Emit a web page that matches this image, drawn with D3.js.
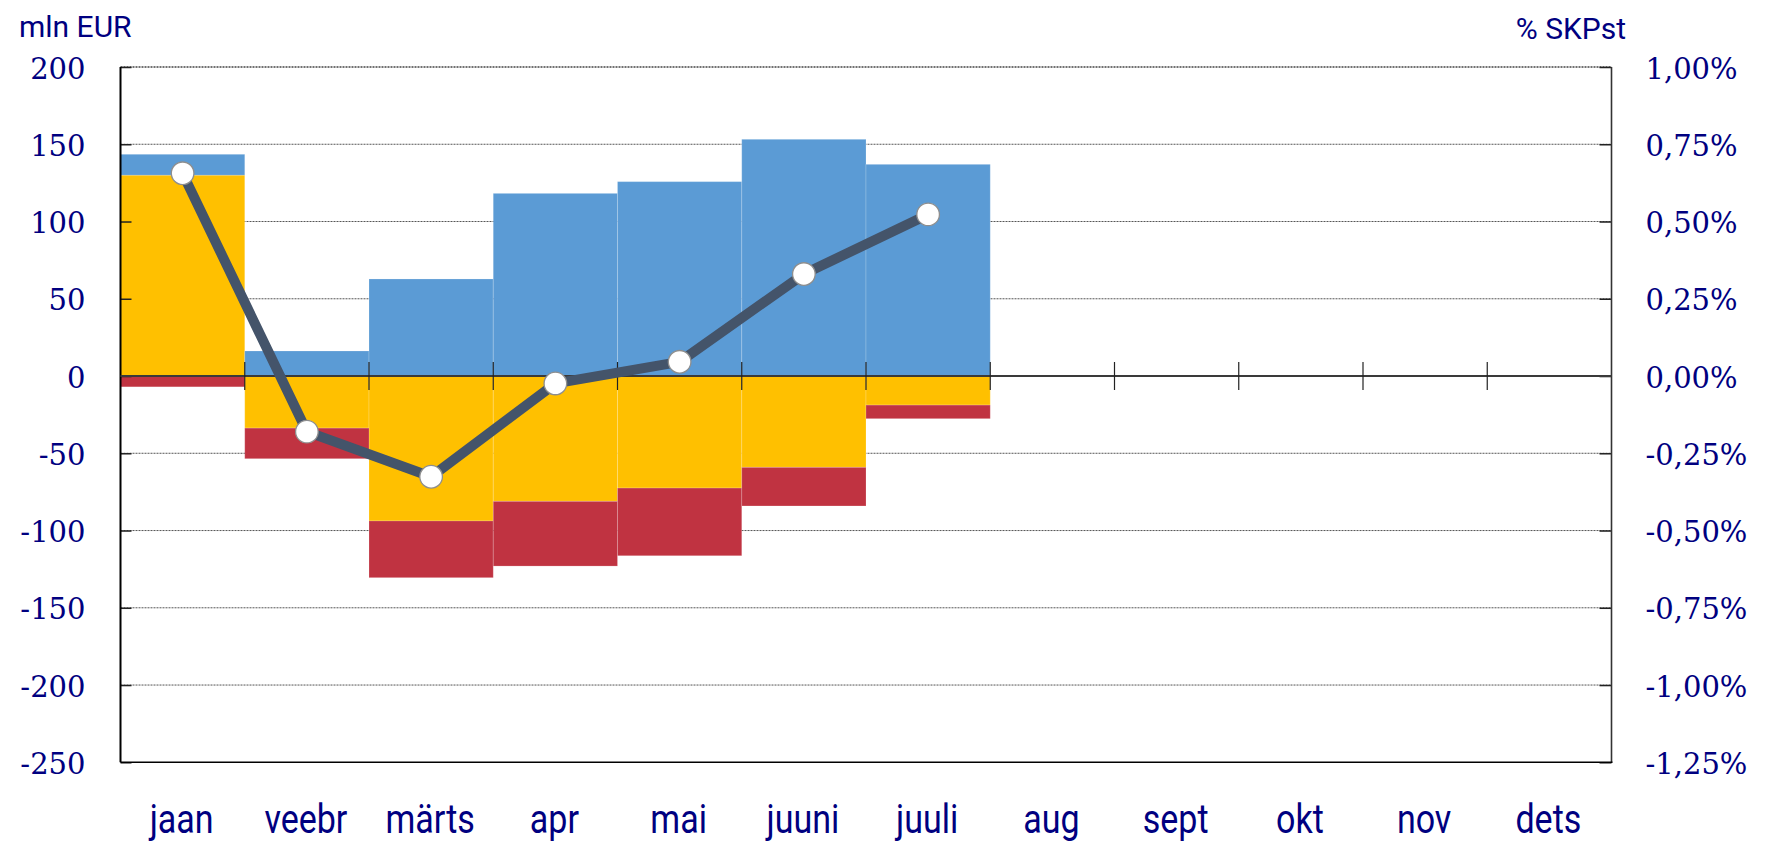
<!DOCTYPE html>
<html>
<head>
<meta charset="utf-8">
<script src="https://cdn.jsdelivr.net/npm/d3@7"></script>
<style>
  html, body { margin: 0; padding: 0; background: #fff; }
  svg { display: block; }
</style>
</head>
<body>
<svg id="chart" width="1767" height="842"></svg>
<script>
// ---- data ----
const months = ["jaan","veebr","märts","apr","mai","juuni","juuli","aug","sept","okt","nov","dets"];
const yellowVals = [130, -33.7, -93.8, -81.1, -72.5, -59.1, -18.8];
const blueVals   = [13.5, 16.2, 62.8, 118.2, 125.8, 153.2, 137];
const redVals    = [-7, -19.8, -36.7, -41.9, -43.8, -25, -8.8];
const linePct    = [0.656, -0.180, -0.326, -0.024, 0.046, 0.330, 0.523];
const leftTicks  = [200, 150, 100, 50, 0, -50, -100, -150, -200, -250];
const rightTicks = [1.00, 0.75, 0.50, 0.25, 0, -0.25, -0.50, -0.75, -1.00, -1.25];
const leftTitle  = "mln EUR";
const rightTitle = "% SKPst";

// ---- layout ----
const L = 120.5, R = 1611.5, T = 67, B = 762.3;
const navy = "#000080";
const colors = { yellow: "#FFC000", blue: "#5B9BD5", red: "#C03341" };

const svg = d3.select("#chart");
const x = d3.scaleBand().domain(months).range([L, R]).padding(0);
const y = d3.scaleLinear().domain([-250, 200]).range([B, T]);
const y2 = d3.scaleLinear().domain([-1.25, 1.00]).range([B, T]);

const loc = d3.formatLocale({ decimal: ",", thousands: " ", grouping: [3], currency: ["", ""], minus: "-" });
const fmtL = loc.format("d");
const fmtR = v => loc.format(".2f")(v) + "%";

// gridlines
svg.append("g").selectAll("line")
  .data(leftTicks.filter(v => v !== 0 && v !== -250))
  .join("line")
  .attr("x1", L).attr("x2", R)
  .attr("y1", d => y(d)).attr("y2", d => y(d))
  .attr("stroke", d => d === 200 ? "#444" : "#555")
  .attr("stroke-width", d => d === 200 ? 1.6 : 1)
  .attr("stroke-dasharray", "2,1");

// stacked bars
const table = yellowVals.map((v, i) => ({ month: months[i], yellow: v, blue: blueVals[i], red: redVals[i] }));
const stack = d3.stack().keys(["yellow", "blue", "red"]).offset(d3.stackOffsetDiverging);
const series = stack(table);
svg.append("g").selectAll("g")
  .data(series)
  .join("g")
  .attr("fill", d => colors[d.key])
  .selectAll("rect")
  .data(d => d)
  .join("rect")
  .attr("x", d => x(d.data.month))
  .attr("width", x.bandwidth())
  .attr("y", d => y(Math.max(d[0], d[1])))
  .attr("height", d => Math.abs(y(d[0]) - y(d[1])))
  .attr("stroke", "rgba(255,255,255,0.18)")
  .attr("stroke-width", 1);

// left axis
const gl = svg.append("g").attr("transform", `translate(${L},0)`)
  .call(d3.axisLeft(y).tickValues(leftTicks).tickFormat(fmtL).tickSize(-11).tickPadding(35));
gl.select(".domain").remove();
gl.selectAll(".tick line").attr("stroke", "#222").attr("stroke-width", 1.5);
gl.selectAll(".tick text")
  .attr("fill", navy).attr("font-family", "'DejaVu Serif', serif").attr("font-size", 29)
  .attr("dy", "0.38em");

// right axis
const gr = svg.append("g").attr("transform", `translate(${R},0)`)
  .call(d3.axisRight(y2).tickValues(rightTicks).tickFormat(fmtR).tickSize(-12).tickPadding(34));
gr.select(".domain").remove();
gr.selectAll(".tick line").attr("stroke", "#222").attr("stroke-width", 1.5);
gr.selectAll(".tick text")
  .attr("fill", navy).attr("font-family", "'DejaVu Serif', serif").attr("font-size", 29)
  .attr("dy", "0.38em");

// frame lines
svg.append("line").attr("x1", L).attr("x2", L).attr("y1", T).attr("y2", B)
  .attr("stroke", "#000").attr("stroke-width", 2);
svg.append("line").attr("x1", R).attr("x2", R).attr("y1", T).attr("y2", B)
  .attr("stroke", "#333").attr("stroke-width", 1.6);
svg.append("line").attr("x1", L).attr("x2", R + 1).attr("y1", B).attr("y2", B)
  .attr("stroke", "#000").attr("stroke-width", 1.6);

// zero line and category ticks
svg.append("line").attr("x1", L).attr("x2", R).attr("y1", y(0)).attr("y2", y(0))
  .attr("stroke", "#3a3a3a").attr("stroke-width", 2);
const bounds = months.map(m => x(m)).concat([R]);
svg.append("g").selectAll("line").data(bounds.slice(1, -1)).join("line")
  .attr("x1", d => d).attr("x2", d => d)
  .attr("y1", y(0) - 14).attr("y2", y(0) + 14)
  .attr("stroke", "#222").attr("stroke-width", 1.2);

// month labels
svg.append("g").selectAll("text").data(months).join("text")
  .attr("transform", d => `translate(${x(d) + x.bandwidth() / 2 - 1},833) scale(0.83,1)`)
  .attr("text-anchor", "middle")
  .attr("font-family", "Roboto, sans-serif").attr("font-size", 41)
  .attr("fill", navy)
  .text(d => d);

// line series
const lineData = linePct.map((v, i) => ({ month: months[i], v }));
svg.append("path").datum(lineData)
  .attr("fill", "none").attr("stroke", "#44546A").attr("stroke-width", 10)
  .attr("stroke-linejoin", "round")
  .attr("d", d3.line().x(d => x(d.month) + x.bandwidth() / 2).y(d => y2(d.v)));
svg.append("g").selectAll("circle").data(lineData).join("circle")
  .attr("cx", d => x(d.month) + x.bandwidth() / 2).attr("cy", d => y2(d.v))
  .attr("r", 11.3).attr("fill", "#fff").attr("stroke", "#8e8e8e").attr("stroke-width", 1.3);

// titles
svg.append("text").attr("x", 19).attr("y", 37)
  .attr("font-family", "Roboto, sans-serif").attr("font-size", 30).attr("fill", navy)
  .text(leftTitle);
svg.append("text").attr("x", 1626).attr("y", 39).attr("text-anchor", "end")
  .attr("font-family", "Roboto, sans-serif").attr("font-size", 30).attr("fill", navy)
  .text(rightTitle);
</script>
</body>
</html>
